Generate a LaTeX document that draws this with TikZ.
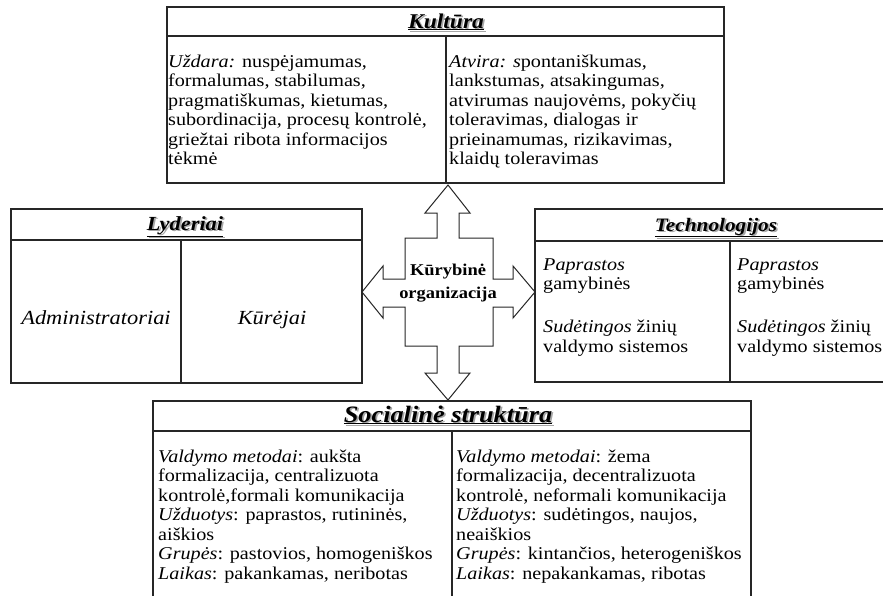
\documentclass[tikz,border=0pt]{standalone}
\usepackage{fontspec}
\setmainfont[FakeStretch=1.12]{Liberation Serif}
\newcommand\lnstrut{\rule{0pt}{16pt}}
\newcommand\hdrplain[1]{\underline{\textbf{\textit{#1}}}}
% header text with a soft grey drop shadow behind it
\newcommand\hdrtext[1]{\leavevmode\rlap{\kern1.8pt\raisebox{-1.8pt}{\textcolor{black!35}{\hdrplain{#1}}}}\hdrplain{#1}}
\begin{document}
\begin{tikzpicture}[x=1pt,y=-1pt,
  frame/.style={draw=black!85, line width=1.3pt},
  body/.style={anchor=north west, inner sep=0pt, align=left,
    font=\fontsize{18}{19.5}\selectfont},
  hdr/.style={anchor=base, inner sep=0pt, font=\fontsize{#1}{22}\selectfont},
  hdr/.default=19,
  lead/.style={anchor=base, inner sep=0pt, font=\fontsize{20}{22}\selectfont\itshape},
  quad/.style={draw=black!85, line width=1pt, fill=white},
  core/.style={inner sep=0pt, align=center, font=\fontsize{16.5}{23}\selectfont\bfseries}
]
\useasboundingbox (0,0) rectangle (883,595);
\clip (0,0) rectangle (883,595);
\fill[white] (0,0) rectangle (883,595);

% Kultura box
\draw[frame] (167,7) rectangle (724,183);
\draw[frame] (167,36) -- (724,36);
\draw[frame] (446,36) -- (446,183);
\node[hdr=21] (kul) at (446,28) {\hdrtext{Kultūra}};
\node[body] (kulL) at (168,51) {\lnstrut\textit{Uždara:} nuspėjamumas,\\
formalumas, stabilumas,\\
pragmatiškumas, kietumas,\\
subordinacija, procesų kontrolė,\\
griežtai ribota informacijos\\
tėkmė};
\node[body] (kulR) at (449,51) {\lnstrut\textit{Atvira: s}pontaniškumas,\\
lankstumas, atsakingumas,\\
atvirumas naujovėms, pokyčių\\
toleravimas, dialogas ir\\
prieinamumas, rizikavimas,\\
klaidų toleravimas};

% Lyderiai box
\draw[frame] (11,209) rectangle (362,383);
\draw[frame] (11,240) -- (362,240);
\draw[frame] (181,240) -- (181,383);
\node[hdr=20] (lyd) at (185,230) {\hdrtext{Lyderiai}};
\node[lead] (adm) at (96,324) {Administratoriai};
\node[lead] (kur) at (272,324) {Kūrėjai};

% Technologijos box (runs past the right edge)
\draw[frame] (535,209) rectangle (925,382);
\draw[frame] (535,241) -- (925,241);
\draw[frame] (730,241) -- (730,382);
\node[hdr=19] (tech) at (716,231) {\hdrtext{Technologijos}};
\node[body] (techL) at (543,254) {\lnstrut\textit{Paprastos}\\
gamybinės\\[23.5pt]
\textit{Sudėtingos} žinių\\
valdymo sistemos};
\node[body] (techR) at (737,254) {\lnstrut\textit{Paprastos}\\
gamybinės\\[23.5pt]
\textit{Sudėtingos} žinių\\
valdymo sistemos};

% Socialine struktura box (runs past the bottom edge)
\draw[frame] (153,401) rectangle (751,640);
\draw[frame] (153,431) -- (751,431);
\draw[frame] (452,431) -- (452,640);
\node[hdr=23.5] (soc) at (448,422) {\hdrtext{Socialinė struktūra}};
\node[body] (socL) at (158,446) {\lnstrut\textit{Valdymo metodai}: aukšta\\
formalizacija, centralizuota\\
kontrolė,formali komunikacija\\
\textit{Užduotys}: paprastos, rutininės,\\
aiškios\\
\textit{Grupės}: pastovios, homogeniškos\\
\textit{Laikas}: pakankamas, neribotas};
\node[body] (socR) at (456,446) {\lnstrut\textit{Valdymo metodai}: žema\\
formalizacija, decentralizuota\\
kontrolė, neformali komunikacija\\
\textit{Užduotys}: sudėtingos, naujos,\\
neaiškios\\
\textit{Grupės}: kintančios, heterogeniškos\\
\textit{Laikas}: nepakankamas, ribotas};

% four-way arrow in the middle
\draw[quad] (448,185) -- (470,213) -- (459,213) -- (459,238) -- (493,238)
  -- (493,279) -- (513,279) -- (513,266) -- (535,292) -- (513,318) -- (513,307)
  -- (493,307) -- (493,346) -- (459,346) -- (459,373) -- (470,373) -- (448,400)
  -- (425,373) -- (437,373) -- (437,346) -- (405,346) -- (405,307) -- (383,307)
  -- (383,318) -- (362,292) -- (383,266) -- (383,279) -- (405,279) -- (405,238)
  -- (437,238) -- (437,213) -- (425,213) -- cycle;
\node[core] (org) at (448,283) {Kūrybinė\\organizacija};
\end{tikzpicture}
\end{document}
